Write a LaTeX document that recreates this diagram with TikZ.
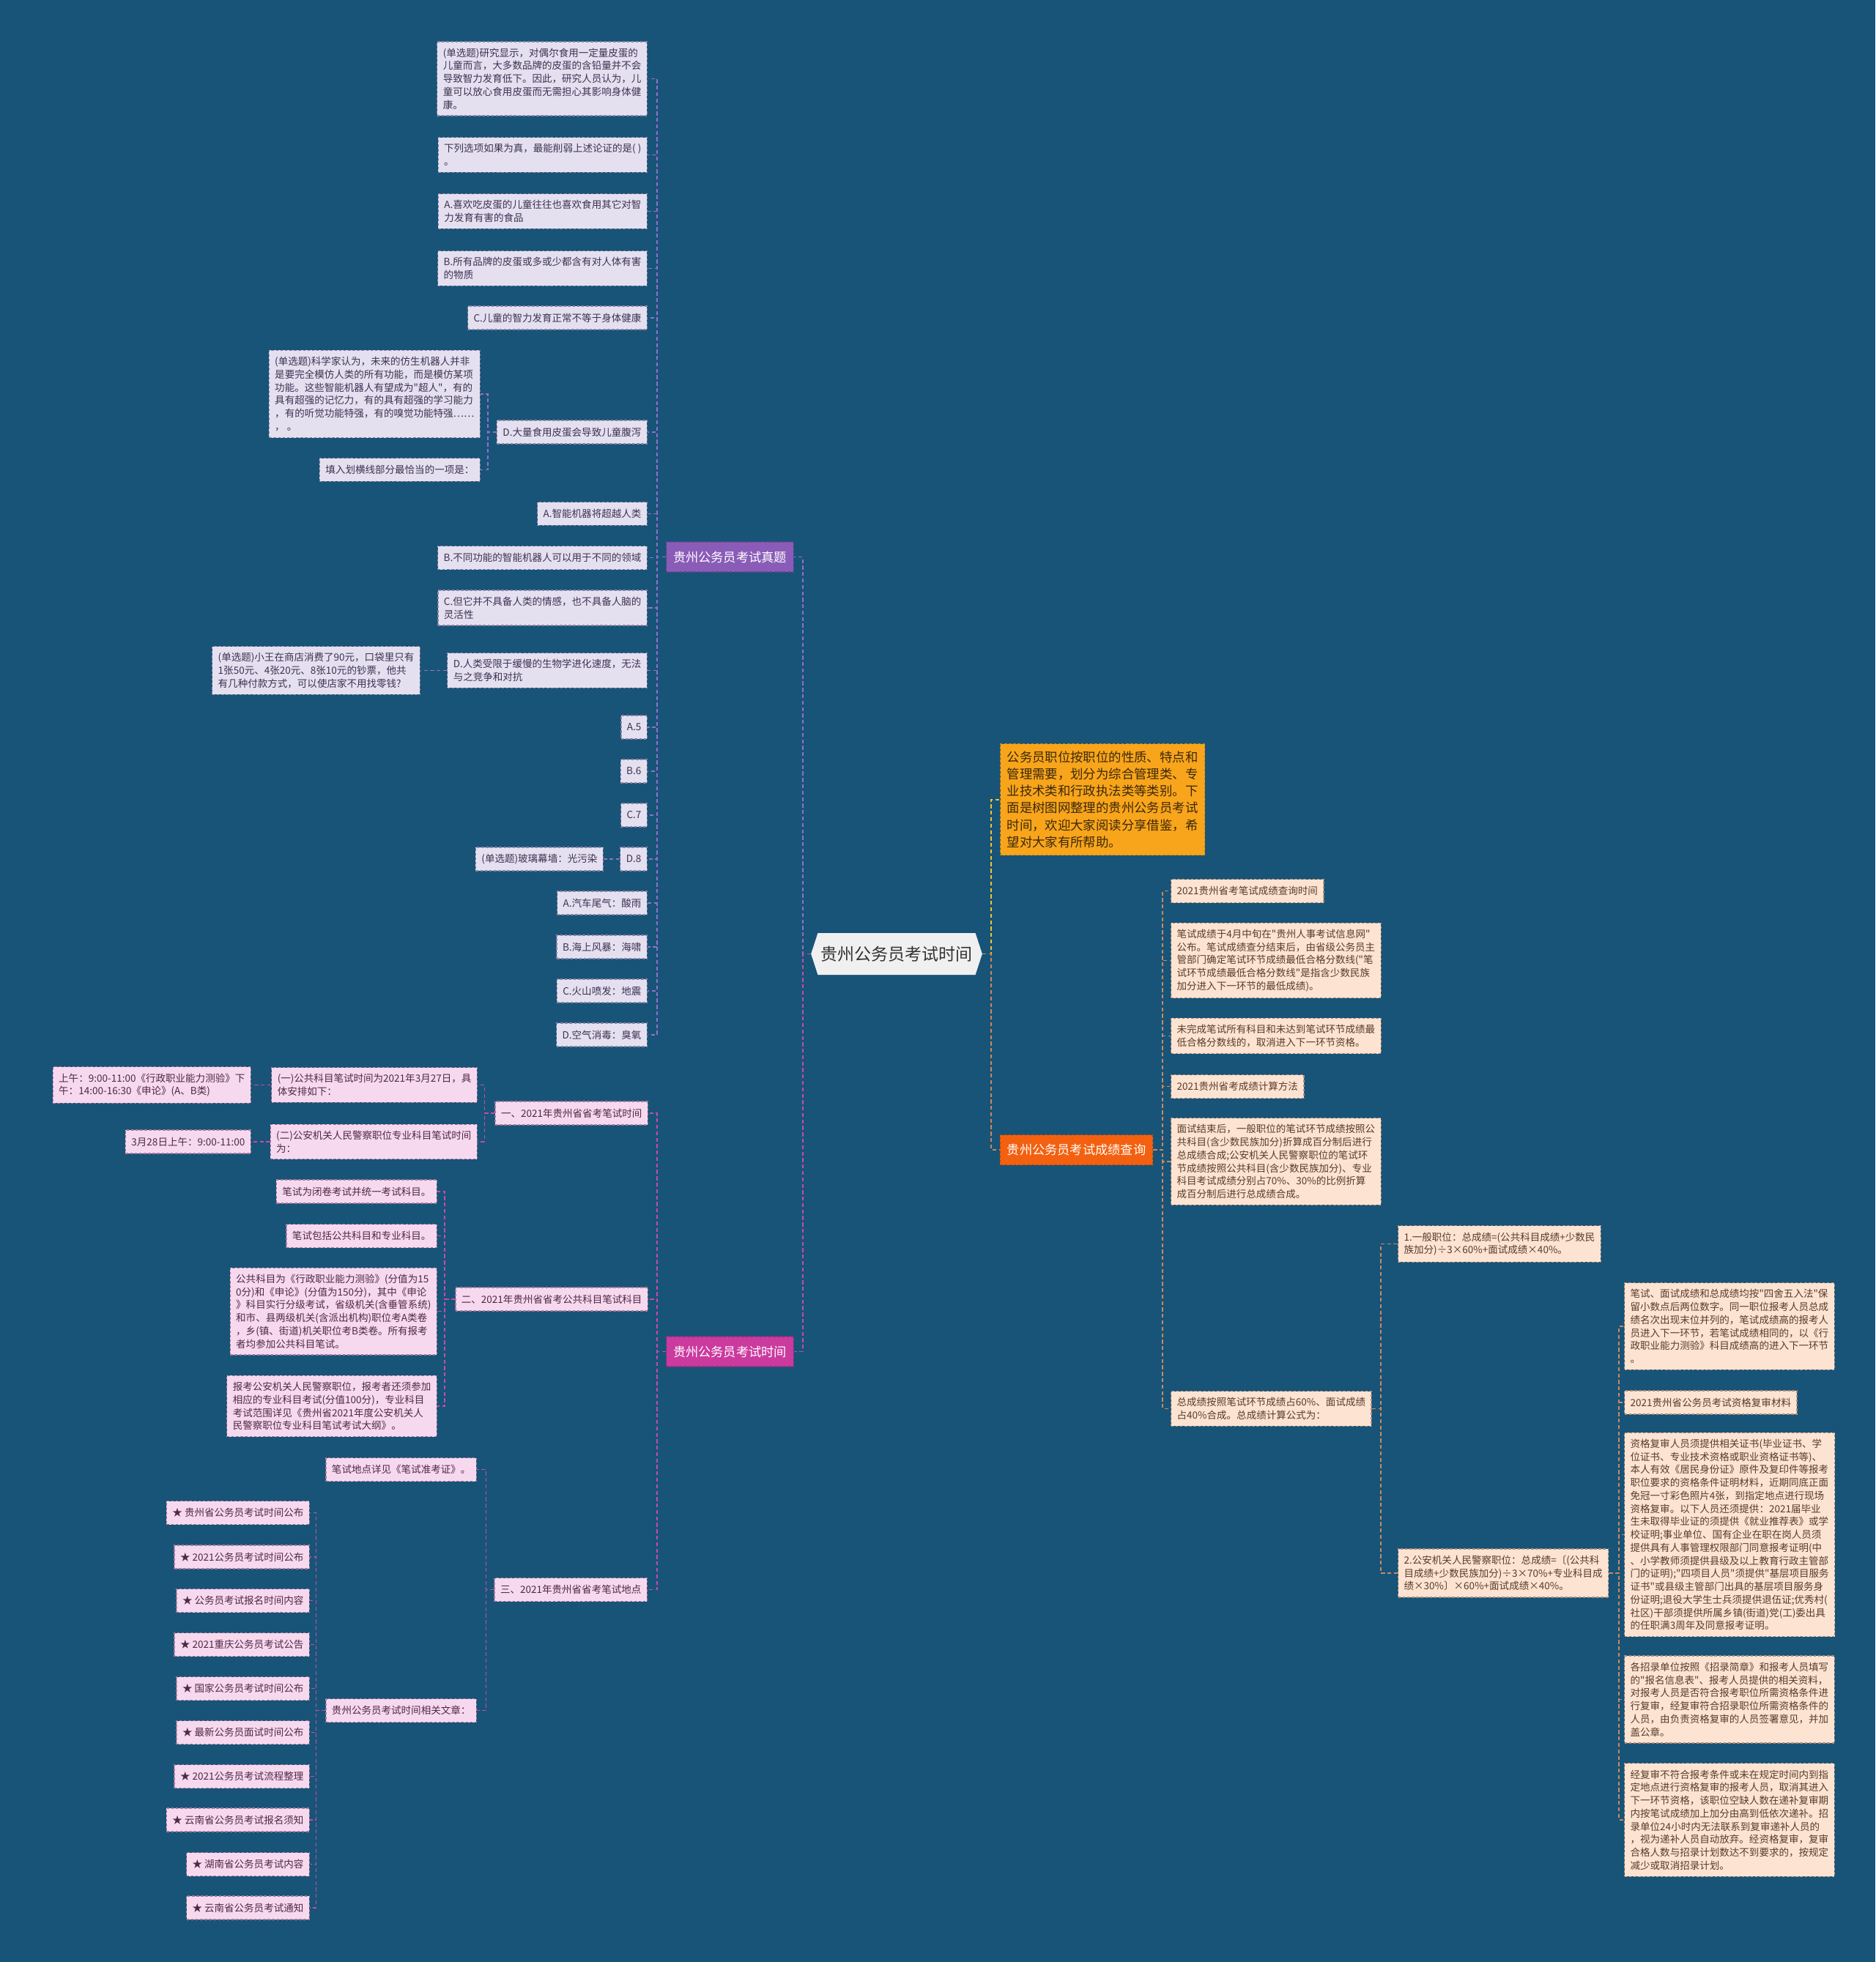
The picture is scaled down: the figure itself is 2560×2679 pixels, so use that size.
\documentclass[tikz,border=0pt]{standalone}
\usepackage{fontspec}
\setmainfont{Noto Sans CJK SC}[Ligatures=TeXOff]
\usepackage{tikz}
\usetikzlibrary{shapes.symbols}

\definecolor{bgblue}{RGB}{24,84,120}
\definecolor{rootgray}{RGB}{240,240,240}
\definecolor{zhenti}{RGB}{138,92,184}
\definecolor{shijian}{RGB}{203,58,158}
\definecolor{chaxun}{RGB}{243,96,15}
\definecolor{introfill}{RGB}{248,165,27}
\definecolor{introtext}{RGB}{60,40,10}
\definecolor{lavfill}{RGB}{229,224,240}
\definecolor{lavbord}{RGB}{140,130,165}
\definecolor{lavtext}{RGB}{60,50,80}
\definecolor{pinkfill}{RGB}{246,217,238}
\definecolor{pinkbord}{RGB}{170,120,155}
\definecolor{pinktext}{RGB}{80,40,70}
\definecolor{peachfill}{RGB}{252,227,210}
\definecolor{peachbord}{RGB}{175,140,120}
\definecolor{peachtext}{RGB}{90,60,40}
\definecolor{lavline}{RGB}{150,110,200}
\definecolor{pinkline}{RGB}{200,75,165}
\definecolor{peachline}{RGB}{205,135,95}
\definecolor{yelline}{RGB}{240,195,50}

\begin{document}
\begin{tikzpicture}[x=0.02cm, y=-0.02cm,
    leaf/.style={dash pattern=on 2pt off 1.5pt, line width=0.7pt, inner xsep=0.16cm,
        inner ysep=0.175cm, minimum height=0.64cm, align=left,
        font=\fontsize{7.7}{10.1}\selectfont},
    qleaf/.style={leaf, draw=lavbord, fill=lavfill, text=lavtext},
    pleaf/.style={leaf, draw=pinkbord, fill=pinkfill, text=pinktext},
    sleaf/.style={leaf, draw=peachbord, fill=peachfill, text=peachtext},
    branch/.style={draw=#1!75!black, fill=#1, dash pattern=on 2pt off 1.5pt, line width=0.7pt,
        text=white, font=\fontsize{9.8}{12}\selectfont, inner xsep=0.19cm, minimum height=0.82cm},
    qlink/.style={lavline, line width=1pt, dash pattern=on 3pt off 2pt},
    plink/.style={pinkline, line width=1pt, dash pattern=on 3pt off 2pt},
    slink/.style={peachline, line width=1pt, dash pattern=on 3pt off 2pt}]

    % background
    \fill[bgblue] (0,0) rectangle (2560,2679);

    % root
    \node[signal, signal to=west and east, signal pointer angle=144, fill=rootgray, text=black!80,
        font=\fontsize{13.1}{15}\selectfont, inner xsep=0.08cm, minimum height=1.14cm]
        (root) at (1224,1302.5) {贵州公务员考试时间};

    % main branches
    \node[branch=zhenti] (zt) at (996.5,760.5) {贵州公务员考试真题};
    \node[branch=shijian] (sj) at (996.5,1845.5) {贵州公务员考试时间};
    \node[branch=chaxun] (cx) at (1469.5,1570) {贵州公务员考试成绩查询};
    \node[draw=introfill!80!black, fill=introfill, dash pattern=on 2pt off 1.5pt, line width=0.7pt,
        text=introtext, font=\fontsize{9.9}{13.2}\selectfont, align=left, inner xsep=0.18cm,
        inner ysep=0.2cm, anchor=north west] (intro) at (1365,1015)
        {公务员职位按职位的性质、特点和\\管理需要，划分为综合管理类、专\\业技术类和行政执法类等类别。下\\面是树图网整理的贵州公务员考试\\时间，欢迎大家阅读分享借鉴，希\\望对大家有所帮助。};

    % exam questions
    \node[qleaf, anchor=east] (q1) at (884,107.5) {(单选题)研究显示，对偶尔食用一定量皮蛋的\\儿童而言，大多数品牌的皮蛋的含铅量并不会\\导致智力发育低下。因此，研究人员认为，儿\\童可以放心食用皮蛋而无需担心其影响身体健\\康。};
    \node[qleaf, anchor=east] (q2) at (884,211.5) {下列选项如果为真，最能削弱上述论证的是( )\\。};
    \node[qleaf, anchor=east] (q3) at (884,288.5) {A.喜欢吃皮蛋的儿童往往也喜欢食用其它对智\\力发育有害的食品};
    \node[qleaf, anchor=east] (q4) at (884,366.5) {B.所有品牌的皮蛋或多或少都含有对人体有害\\的物质};
    \node[qleaf, anchor=east] (q5) at (884,434) {C.儿童的智力发育正常不等于身体健康};
    \node[qleaf, anchor=east] (q6) at (884,590) {D.大量食用皮蛋会导致儿童腹泻};
    \node[qleaf, anchor=east] (q6a) at (656,538) {(单选题)科学家认为，未来的仿生机器人并非\\是要完全模仿人类的所有功能，而是模仿某项\\功能。这些智能机器人有望成为"超人"，有的\\具有超强的记忆力，有的具有超强的学习能力\\，有的听觉功能特强，有的嗅觉功能特强……\\， 。};
    \node[qleaf, anchor=east] (q6b) at (656,641.5) {填入划横线部分最恰当的一项是：};
    \node[qleaf, anchor=east] (q7) at (884,701.5) {A.智能机器将超越人类};
    \node[qleaf, anchor=east] (q8) at (884,761.5) {B.不同功能的智能机器人可以用于不同的领域};
    \node[qleaf, anchor=east] (q9) at (884,830) {C.但它并不具备人类的情感，也不具备人脑的\\灵活性};
    \node[qleaf, anchor=east] (q10) at (884,915.5) {D.人类受限于缓慢的生物学进化速度，无法\\与之竞争和对抗};
    \node[qleaf, anchor=east] (q10a) at (574,915.5) {(单选题)小王在商店消费了90元，口袋里只有\\1张50元、4张20元、8张10元的钞票，他共\\有几种付款方式，可以使店家不用找零钱?};
    \node[qleaf, anchor=east] (q11) at (884,993) {A.5};
    \node[qleaf, anchor=east] (q12) at (884,1053) {B.6};
    \node[qleaf, anchor=east] (q13) at (884,1113) {C.7};
    \node[qleaf, anchor=east] (q14) at (884,1173) {D.8};
    \node[qleaf, anchor=east] (q14a) at (824,1173) {(单选题)玻璃幕墙：光污染};
    \node[qleaf, anchor=east] (q15) at (884,1233) {A.汽车尾气：酸雨};
    \node[qleaf, anchor=east] (q16) at (884,1293) {B.海上风暴：海啸};
    \node[qleaf, anchor=east] (q17) at (884,1353) {C.火山喷发：地震};
    \node[qleaf, anchor=east] (q18) at (884,1413) {D.空气消毒：臭氧};

    % exam time
    \node[pleaf, anchor=east] (s1) at (885,1520) {一、2021年贵州省省考笔试时间};
    \node[pleaf, anchor=east] (s1a) at (652,1481.5) {(一)公共科目笔试时间为2021年3月27日，具\\体安排如下：};
    \node[pleaf, anchor=east] (s1a1) at (343,1481.5) {上午：9:00-11:00《行政职业能力测验》下\\午：14:00-16:30《申论》(A、B类)};
    \node[pleaf, anchor=east] (s1b) at (652,1559) {(二)公安机关人民警察职位专业科目笔试时间\\为：};
    \node[pleaf, anchor=east] (s1b1) at (343,1559) {3月28日上午：9:00-11:00};
    \node[pleaf, anchor=east] (s2) at (885,1774) {二、2021年贵州省省考公共科目笔试科目};
    \node[pleaf, anchor=east] (s2a) at (597,1627) {笔试为闭卷考试并统一考试科目。};
    \node[pleaf, anchor=east] (s2b) at (597,1687.5) {笔试包括公共科目和专业科目。};
    \node[pleaf, anchor=east] (s2c) at (597,1790.5) {公共科目为《行政职业能力测验》(分值为15\\0分)和《申论》(分值为150分)，其中《申论\\》科目实行分级考试，省级机关(含垂管系统)\\和市、县两级机关(含派出机构)职位考A类卷\\，乡(镇、街道)机关职位考B类卷。所有报考\\者均参加公共科目笔试。};
    \node[pleaf, anchor=east] (s2d) at (597,1920) {报考公安机关人民警察职位，报考者还须参加\\相应的专业科目考试(分值100分)，专业科目\\考试范围详见《贵州省2021年度公安机关人\\民警察职位专业科目笔试考试大纲》。};
    \node[pleaf, anchor=east] (s3) at (884,2170.5) {三、2021年贵州省省考笔试地点};
    \node[pleaf, anchor=east] (s3a) at (651,2006.5) {笔试地点详见《笔试准考证》。};
    \node[pleaf, anchor=east] (s3b) at (651,2335.5) {贵州公务员考试时间相关文章：};
    \node[pleaf, anchor=east] (r1) at (423,2065.5) {★ 贵州省公务员考试时间公布};
    \node[pleaf, anchor=east] (r2) at (423,2126) {★ 2021公务员考试时间公布};
    \node[pleaf, anchor=east] (r3) at (423,2185.5) {★ 公务员考试报名时间内容};
    \node[pleaf, anchor=east] (r4) at (423,2245.5) {★ 2021重庆公务员考试公告};
    \node[pleaf, anchor=east] (r5) at (423,2305.5) {★ 国家公务员考试时间公布};
    \node[pleaf, anchor=east] (r6) at (423,2365.5) {★ 最新公务员面试时间公布};
    \node[pleaf, anchor=east] (r7) at (423,2425.5) {★ 2021公务员考试流程整理};
    \node[pleaf, anchor=east] (r8) at (423,2485) {★ 云南省公务员考试报名须知};
    \node[pleaf, anchor=east] (r9) at (423,2545.5) {★ 湖南省公务员考试内容};
    \node[pleaf, anchor=east] (r10) at (423,2605) {★ 云南省公务员考试通知};

    % score query
    \node[sleaf, anchor=west] (c1) at (1598,1216.5) {2021贵州省考笔试成绩查询时间};
    \node[sleaf, anchor=west] (c2) at (1598,1311.5) {笔试成绩于4月中旬在"贵州人事考试信息网"\\公布。笔试成绩查分结束后，由省级公务员主\\管部门确定笔试环节成绩最低合格分数线("笔\\试环节成绩最低合格分数线"是指含少数民族\\加分进入下一环节的最低成绩)。};
    \node[sleaf, anchor=west] (c3) at (1598,1414.5) {未完成笔试所有科目和未达到笔试环节成绩最\\低合格分数线的，取消进入下一环节资格。};
    \node[sleaf, anchor=west] (c4) at (1598,1483.5) {2021贵州省考成绩计算方法};
    \node[sleaf, anchor=west] (c5) at (1598,1586) {面试结束后，一般职位的笔试环节成绩按照公\\共科目(含少数民族加分)折算成百分制后进行\\总成绩合成;公安机关人民警察职位的笔试环\\节成绩按照公共科目(含少数民族加分)、专业\\科目考试成绩分别占70\%、30\%的比例折算\\成百分制后进行总成绩合成。};
    \node[sleaf, anchor=west] (c6) at (1598,1923.5) {总成绩按照笔试环节成绩占60\%、面试成绩\\占40\%合成。总成绩计算公式为：};
    \node[sleaf, anchor=west] (c6a) at (1908,1698.5) {1.一般职位：总成绩=(公共科目成绩+少数民\\族加分)÷3×60\%+面试成绩×40\%。};
    \node[sleaf, anchor=west] (c6b) at (1908,2148) {2.公安机关人民警察职位：总成绩=〔(公共科\\目成绩+少数民族加分)÷3×70\%+专业科目成\\绩×30\%〕×60\%+面试成绩×40\%。};
    \node[sleaf, anchor=west] (d1) at (2217,1811) {笔试、面试成绩和总成绩均按"四舍五入法"保\\留小数点后两位数字。同一职位报考人员总成\\绩名次出现末位并列的，笔试成绩高的报考人\\员进入下一环节，若笔试成绩相同的，以《行\\政职业能力测验》科目成绩高的进入下一环节\\。};
    \node[sleaf, anchor=west] (d2) at (2217,1915) {2021贵州省公务员考试资格复审材料};
    \node[sleaf, anchor=west] (d3) at (2217,2095.5) {资格复审人员须提供相关证书(毕业证书、学\\位证书、专业技术资格或职业资格证书等)、\\本人有效《居民身份证》原件及复印件等报考\\职位要求的资格条件证明材料，近期同底正面\\免冠一寸彩色照片4张，到指定地点进行现场\\资格复审。以下人员还须提供：2021届毕业\\生未取得毕业证的须提供《就业推荐表》或学\\校证明;事业单位、国有企业在职在岗人员须\\提供具有人事管理权限部门同意报考证明(中\\、小学教师须提供县级及以上教育行政主管部\\门的证明);"四项目人员"须提供"基层项目服务\\证书"或县级主管部门出具的基层项目服务身\\份证明;退役大学生士兵须提供退伍证;优秀村(\\社区)干部须提供所属乡镇(街道)党(工)委出具\\的任职满3周年及同意报考证明。};
    \node[sleaf, anchor=west] (d4) at (2217,2320.5) {各招录单位按照《招录简章》和报考人员填写\\的"报名信息表"、报考人员提供的相关资料，\\对报考人员是否符合报考职位所需资格条件进\\行复审，经复审符合招录职位所需资格条件的\\人员，由负责资格复审的人员签署意见，并加\\盖公章。};
    \node[sleaf, anchor=west] (d5) at (2217,2485) {经复审不符合报考条件或未在规定时间内到指\\定地点进行资格复审的报考人员，取消其进入\\下一环节资格，该职位空缺人数在递补复审期\\内按笔试成绩加上加分由高到低依次递补。招\\录单位24小时内无法联系到复审递补人员的\\，视为递补人员自动放弃。经资格复审，复审\\合格人数与招录计划数达不到要求的，按规定\\减少或取消招录计划。};

    % connectors
    \draw[qlink] (root.west) -- ++(-11,0) |- (zt.east);
    \draw[plink] (root.west) -- ++(-11,0) |- (sj.east);
    \draw[yelline, line width=1pt, dash pattern=on 3pt off 2pt] (root.east) -- ++(12,0) |- (intro.west);
    \draw[slink] (root.east) -- ++(12,0) |- (cx.west);

    \foreach \c in {q1,q2,q3,q4,q5,q6,q7,q8,q9,q10,q11,q12,q13,q14,q15,q16,q17,q18}
        \draw[qlink] (zt.west) -- ++(-12,0) |- (\c.east);
    \foreach \c in {q6a,q6b}
        \draw[qlink] (q6.west) -- ++(-12,0) |- (\c.east);
    \draw[qlink] (q10.west) -- (q10a.east);
    \draw[qlink] (q14.west) -- (q14a.east);

    \foreach \c in {s1,s2,s3}
        \draw[plink] (sj.west) -- ++(-12,0) |- (\c.east);
    \foreach \c in {s1a,s1b}
        \draw[plink] (s1.west) -- ++(-14,0) |- (\c.east);
    \draw[plink] (s1a.west) -- (s1a1.east);
    \draw[plink] (s1b.west) -- (s1b1.east);
    \foreach \c in {s2a,s2b,s2c,s2d}
        \draw[plink] (s2.west) -- ++(-14,0) |- (\c.east);
    \foreach \c in {s3a,s3b}
        \draw[plink] (s3.west) -- ++(-11,0) |- (\c.east);
    \foreach \c in {r1,r2,r3,r4,r5,r6,r7,r8,r9,r10}
        \draw[plink] (s3b.west) -- ++(-13,0) |- (\c.east);

    \foreach \c in {c1,c2,c3,c4,c5,c6}
        \draw[slink] (cx.east) -- ++(13,0) |- (\c.west);
    \foreach \c in {c6a,c6b}
        \draw[slink] (c6.east) -- ++(12,0) |- (\c.west);
    \foreach \c in {d1,d2,d3,d4,d5}
        \draw[slink] (c6b.east) -- ++(14,0) |- (\c.west);
\end{tikzpicture}
\end{document}
